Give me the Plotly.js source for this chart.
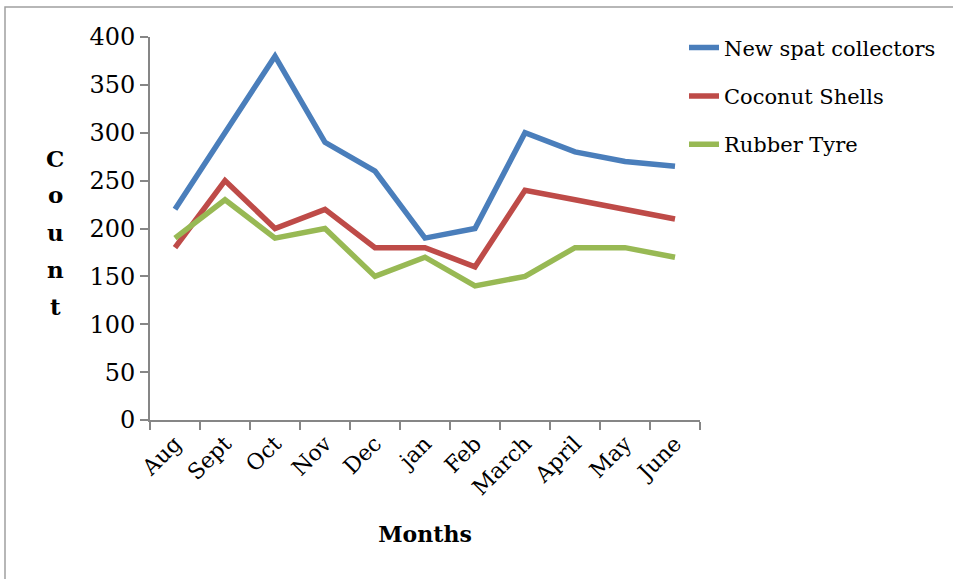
<!DOCTYPE html>
<html>
<head>
<meta charset="utf-8">
<script src="https://cdn.plot.ly/plotly-3.0.1.min.js"></script>
<style>html,body{margin:0;padding:0;background:#fff;}#chart{width:953px;height:579px;}</style>
</head>
<body>
<div id="chart"></div>
<script>
const months = ["Aug","Sept","Oct","Nov","Dec","jan","Feb","March","April","May","June"];
const newSpat = [220,300,380,290,260,190,200,300,280,270,265];
const coconut = [180,250,200,220,180,180,160,240,230,220,210];
const rubber = [190,230,190,200,150,170,140,150,180,180,170];
const seriesNames = ["New spat collectors","Coconut Shells","Rubber Tyre"];
const seriesColors = ["#4A7EBB","#BE4B48","#98B954"];
const yTicks = [0,50,100,150,200,250,300,350,400];
const yTitleLetters = ["C","o","u","n","t"];

const FONT = "DejaVu Serif";
const series = [newSpat, coconut, rubber];
const data = series.map((vals, i) => ({
  type: "scatter", mode: "lines", x: months, y: vals, name: seriesNames[i],
  legendgroup: "g" + i,
  line: {color: seriesColors[i], width: 5.5}
}));

const L = 150, R = 700, T = 37, B = 420;
const W = 953, H = 579;
const pw = R - L, ph = B - T;
const annotations = yTitleLetters.map((ch, i) => ({
  text: "<b>" + ch + "</b>", showarrow: false, xref: "paper", yref: "paper",
  x: (55 - L) / pw, y: (B - (158 + i * 37)) / ph, xanchor: "center", yanchor: "middle",
  font: {family: FONT, size: 23, color: "#000"}
}));

const layout = {
  width: W, height: H,
  margin: {l: L, r: W - R, t: T, b: H - B},
  paper_bgcolor: "#fff", plot_bgcolor: "#fff",
  font: {family: FONT, color: "#000", size: 20},
  showlegend: true,
  legend: {x: (684 - L) / pw, y: 1.025, xanchor: "left", yanchor: "top",
           font: {family: FONT, size: 21, color: "#000"}, tracegroupgap: 18,
           bgcolor: "rgba(0,0,0,0)"},
  xaxis: {type: "category", range: [-0.5, 10.5], showgrid: false, zeroline: false,
          showline: true, linecolor: "#868686", linewidth: 2,
          ticks: "outside", ticklen: 8, tickcolor: "#868686", tickwidth: 2,
          tickson: "boundaries", tickangle: -45,
          tickfont: {family: FONT, size: 22, color: "#000"},
          title: {text: "<b>Months</b>", font: {family: FONT, size: 22, color: "#000"}, standoff: 28}},
  yaxis: {range: [0, 400], tickvals: yTicks, showgrid: false, zeroline: false,
          showline: true, linecolor: "#868686", linewidth: 2,
          ticks: "outside", ticklen: 8, tickcolor: "#868686", tickwidth: 2,
          tickfont: {family: FONT, size: 24, color: "#000"}},
  annotations: annotations,
  shapes: [{type: "rect", xref: "paper", yref: "paper",
            x0: (5 - L) / pw, x1: (1000 - L) / pw, y0: (B - 700) / ph, y1: (B - 7) / ph,
            line: {color: "#a0a0a0", width: 1.5}, fillcolor: "rgba(0,0,0,0)"}]
};
Plotly.newPlot("chart", data, layout, {displayModeBar: false});
</script>
</body>
</html>
